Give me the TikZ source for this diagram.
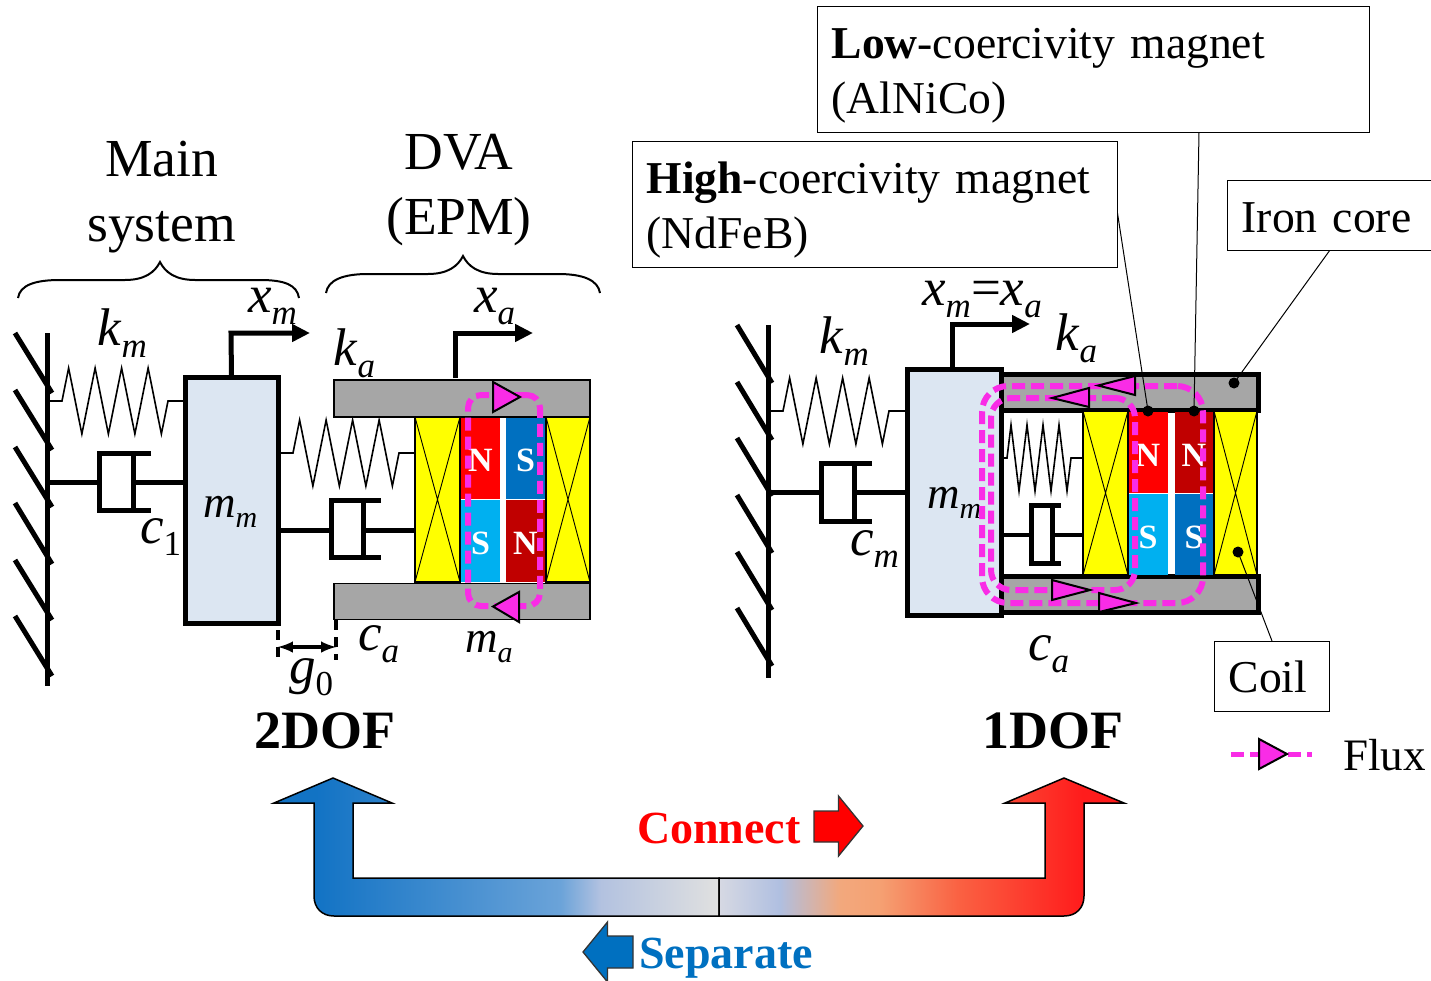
\documentclass[tikz,border=0pt]{standalone}
\usepackage{fontspec}
\setmainfont{Liberation Serif}
\usetikzlibrary{arrows,arrows.meta,decorations.pathmorphing}

\definecolor{massblue}{HTML}{DCE6F2}
\definecolor{irongray}{HTML}{A6A6A6}
\definecolor{fluxpink}{HTML}{F92CE6}
\definecolor{coilyellow}{HTML}{FFFF00}
\definecolor{darkred}{HTML}{C00000}
\definecolor{poleblue}{HTML}{0070C0}
\definecolor{polecyan}{HTML}{00B0F0}

\pgfdeclarehorizontalshading{sepshade}{100bp}{rgb(0bp)=(0.06,0.44,0.76); rgb(29.7bp)=(0.07,0.45,0.77); rgb(57.2bp)=(0.42,0.64,0.85); rgb(61.7bp)=(0.70,0.76,0.88); rgb(75bp)=(0.88,0.88,0.88); rgb(100bp)=(0.88,0.88,0.88)}
\pgfdeclarehorizontalshading{conshade}{100bp}{rgb(0bp)=(0.84,0.85,0.89); rgb(25bp)=(0.84,0.85,0.89); rgb(32.5bp)=(0.69,0.75,0.88); rgb(39.9bp)=(0.95,0.66,0.49); rgb(44.8bp)=(0.96,0.63,0.45); rgb(54.6bp)=(0.98,0.38,0.26); rgb(69.8bp)=(1,0.11,0.11); rgb(100bp)=(1,0.11,0.11)}

\newcommand{\symsub}[2]{{\fontsize{53}{53}\selectfont\textit{#1}\raisebox{-12pt}{\fontsize{35}{35}\selectfont\textit{#2}}}}
\newcommand{\masssub}[2]{{\fontsize{45}{45}\selectfont\textit{#1}\raisebox{-10pt}{\fontsize{30}{30}\selectfont\textit{#2}}}}

\tikzset{
  rod/.style={line width=5pt},
  hatch/.style={line width=5pt},
  outarrow/.style={line width=5pt, -{Triangle[length=18pt,width=17pt]}, line join=miter},
  massbox/.style={draw, fill=massblue, line width=5pt, inner sep=0pt, outer sep=0pt},
  ironbar/.style={draw, fill=irongray, line width=1.5pt, inner sep=0pt, outer sep=0pt},
  ironthick/.style={draw, fill=irongray, line width=5pt, inner sep=0pt, outer sep=0pt},
  coilbox/.style={draw, fill=coilyellow, line width=1.2pt, inner sep=0pt, outer sep=0pt},
  coilx/.style={line width=0.9pt},
  magnet/.style={fill=#1, text=white, inner sep=0pt, outer sep=0pt, text height=27pt, text depth=0pt, font=\fontsize{34}{34}\selectfont\bfseries},
  spring/.style={line width=1.6pt, decorate, decoration={zigzag, segment length=#1, amplitude=33pt, pre length=15pt, post length=15pt}},
  fluxloop/.style={draw=fluxpink, line width=6pt, dash pattern=on 13pt off 6pt, inner sep=0pt, outer sep=0pt},
  fluxtip/.style={draw=black, fill=fluxpink, line width=2pt, line join=miter},
  callout/.style={draw, fill=white, line width=1.3pt, inner xsep=14pt, inner ysep=6pt, anchor=north west, align=left, font=\fontsize{45.6}{55}\selectfont},
  dotmark/.style={circle, fill=black, inner sep=0pt, minimum size=11pt},
  leader/.style={line width=1pt},
  gaptick/.style={line width=3.5pt, dash pattern=on 10pt off 7pt},
  bigarrow/.style={draw=black, line width=1.5pt, shade, line join=miter},
  smallarrow/.style={draw=black!80, line width=1.3pt, line join=miter},
  headtext/.style={anchor=base, align=center, font=\fontsize{53.5}{65}\selectfont},
  doftext/.style={anchor=base, font=\fontsize{54}{54}\selectfont\bfseries},
  label/.style={anchor=base west, inner sep=0pt},
  actiontext/.style={anchor=base west, inner sep=0pt, font=\fontsize{46}{46}\selectfont\bfseries},
}

\begin{document}
\begin{tikzpicture}[x=1pt, y=-1pt]
  \useasboundingbox (0,0) rectangle (1431,980);

  % 2DOF side
  \coordinate (wallLtop) at (47,333);
  \coordinate (wallLbot) at (47,686);
  \draw[rod] (wallLtop) -- (wallLbot);
  \draw[hatch] (15,333) -- (52,393);
  \draw[hatch] (15,390) -- (52,450);
  \draw[hatch] (15,447) -- (52,507);
  \draw[hatch] (15,503) -- (52,564);
  \draw[hatch] (15,560) -- (52,620);
  \draw[hatch] (15,616) -- (52,676);

  \node[ironbar, minimum width=256pt, minimum height=37pt] (ironLtop) at (462,398.5) {};
  \node[ironbar, minimum width=256pt, minimum height=36pt] (ironLbot) at (462,601.5) {};
  \node[coilbox, minimum width=45pt, minimum height=165pt] (coilLa) at (437.5,499.5) {};
  \node[coilbox, minimum width=44pt, minimum height=165pt] (coilLb) at (568,499.5) {};
  \draw[coilx] (coilLa.north west) -- (coilLa.south east) (coilLa.north east) -- (coilLa.south west);
  \draw[coilx] (coilLb.north west) -- (coilLb.south east) (coilLb.north east) -- (coilLb.south west);
  \node[magnet=red, minimum width=39pt, minimum height=81pt] (magLa) at (480.5,458) {N};
  \node[magnet=polecyan, minimum width=39pt, minimum height=82pt] (magLb) at (480.5,541) {S};
  \node[magnet=poleblue, minimum width=39pt, minimum height=81pt] (magLc) at (525.5,458) {S};
  \node[magnet=darkred, minimum width=39pt, minimum height=82pt] (magLd) at (525.5,541) {N};

  \node[massbox, minimum width=93pt, minimum height=246pt] (massL) at (231.5,500.5) {};

  \coordinate (springLa) at (47,401);
  \draw[spring=26.5pt] (springLa) -- (springLa -| massL.west);
  \coordinate (springLb) at (278,453);
  \draw[spring=26.5pt] (springLb) -- (springLb -| coilLa.west);

  \coordinate (dampLa) at (99,482);
  \coordinate (pistLa) at (133,482);
  \draw[rod] (dampLa -| wallLtop) -- (dampLa);
  \draw[rod] (151,453) -- (99,453) -- (99,510) -- (151,510);
  \draw[rod] (133,453) -- (133,510);
  \draw[rod] (pistLa) -- (pistLa -| massL.west);

  \coordinate (dampLb) at (331,530);
  \coordinate (pistLb) at (363,530);
  \draw[rod] (dampLb -| massL.east) -- (dampLb);
  \draw[rod] (381,500) -- (331,500) -- (331,557) -- (381,557);
  \draw[rod] (363,500) -- (363,557);
  \draw[rod] (pistLb) -- (pistLb -| coilLa.west);

  \coordinate (xmBend) at (231,333);
  \coordinate (xmEnd) at (310,333);
  \draw[outarrow] (massL.north) -- (xmBend) -- (xmEnd);
  \coordinate (xaFoot) at (455,378);
  \coordinate (xaBend) at (455,333);
  \coordinate (xaEnd) at (533,333);
  \draw[outarrow] (xaFoot) -- (xaBend) -- (xaEnd);

  \node[fluxloop, rounded corners=13pt, minimum width=72pt, minimum height=211pt] (fluxL) at (504,500.5) {};
  \draw[fluxtip] (493,382) -- (520,397) -- (493,412) -- cycle;
  \draw[fluxtip] (519,592) -- (493,606.5) -- (519,622) -- cycle;

  \coordinate (gapA) at (278,647);
  \coordinate (gapB) at (336,647);
  \draw[gaptick] (278,630) -- (278,660);
  \draw[gaptick] (336,620) -- (336,660);
  \draw[line width=4pt, latex-latex] (gapA) -- (gapB);

  \draw[line width=2pt] (18,298) .. controls (20,285) and (35,280) .. (60,280) -- (125,280) .. controls (145,280) and (155,272) .. (160,262) .. controls (165,272) and (175,280) .. (195,280) -- (260,280) .. controls (285,280) and (297,285) .. (299,298);
  \draw[line width=2pt] (326,293) .. controls (328,280) and (343,274) .. (368,274) -- (428,274) .. controls (448,274) and (458,266) .. (463,256) .. controls (468,266) and (478,274) .. (498,274) -- (558,274) .. controls (583,274) and (598,280) .. (600,293);

  \node[headtext] (mainLabel) at (161.5,241) {Main\\system};
  \node[headtext] (dvaLabel) at (459,234) {DVA\\(EPM)};
  \node[label] (kmL) at (97,345) {\symsub{k}{m}};
  \node[label] (c1L) at (140,543) {\symsub{c}{\textup{1}}};
  \node[label] (xmL) at (248,312) {\symsub{x}{m}};
  \node[label] (mmL) at (203,517) {\masssub{m}{m}};
  \node[label] (g0L) at (289,683) {\symsub{g}{\textup{0}}};
  \node[label] (kaL) at (333,365) {\symsub{k}{a}};
  \node[label] (xaL) at (474,312) {\symsub{x}{a}};
  \node[label] (caL) at (358,650) {\symsub{c}{a}};
  \node[label] (maL) at (465,652) {\masssub{m}{a}};
  \node[doftext] (twoDof) at (325,748) {2DOF};

  % 1DOF side
  \coordinate (wallRtop) at (768,325);
  \coordinate (wallRbot) at (768,678);
  \draw[rod] (wallRtop) -- (wallRbot);
  \draw[hatch] (737,325) -- (772,383);
  \draw[hatch] (737,382) -- (772,440);
  \draw[hatch] (737,438) -- (772,496);
  \draw[hatch] (737,495) -- (772,553);
  \draw[hatch] (737,552) -- (772,610);
  \draw[hatch] (737,608) -- (772,666);

  \node[ironthick, minimum width=257pt, minimum height=36pt] (ironRtop) at (1130,392.5) {};
  \node[ironthick, minimum width=257pt, minimum height=36pt] (ironRbot) at (1130,594.5) {};
  \draw[line width=5pt] (ironRtop.south west) -- (ironRbot.north west);
  \node[coilbox, minimum width=45pt, minimum height=164pt] (coilRa) at (1105.5,493) {};
  \node[coilbox, minimum width=43pt, minimum height=164pt] (coilRb) at (1235.5,493) {};
  \draw[coilx] (coilRa.north west) -- (coilRa.south east) (coilRa.north east) -- (coilRa.south west);
  \draw[coilx] (coilRb.north west) -- (coilRb.south east) (coilRb.north east) -- (coilRb.south west);
  \node[magnet=red, minimum width=39pt, minimum height=81pt] (magRa) at (1148,452.5) {N};
  \node[magnet=polecyan, minimum width=39pt, minimum height=81pt] (magRb) at (1148,534.5) {S};
  \node[magnet=darkred, minimum width=38pt, minimum height=81pt] (magRc) at (1194,452.5) {N};
  \node[magnet=poleblue, minimum width=38pt, minimum height=81pt] (magRd) at (1194,534.5) {S};

  \node[massbox, minimum width=94pt, minimum height=246pt] (massR) at (954,492) {};

  \coordinate (springRa) at (768,411);
  \draw[spring=26.5pt] (springRa) -- (springRa -| massR.west);
  \coordinate (springRb) at (1003,458);
  \draw[line width=1.6pt, decorate, decoration={zigzag, segment length=16pt, amplitude=33pt, pre length=4pt, post length=12pt}] (springRb) -- (springRb -| coilRa.west);

  \coordinate (dampRa) at (821,492);
  \coordinate (pistRa) at (854,492);
  \draw[rod] (dampRa -| wallRtop) -- (dampRa);
  \draw[rod] (872,463) -- (821,463) -- (821,521) -- (872,521);
  \draw[rod] (854,463) -- (854,521);
  \draw[rod] (pistRa) -- (pistRa -| massR.west);

  \coordinate (dampRb) at (1031,535);
  \coordinate (pistRb) at (1052,535);
  \draw[line width=3.5pt] (dampRb -| massR.east) -- (dampRb);
  \draw[rod] (1061,505) -- (1031,505) -- (1031,563) -- (1061,563);
  \draw[rod] (1052,505) -- (1052,563);
  \draw[line width=3.5pt] (pistRb) -- (pistRb -| coilRa.west);

  \coordinate (xsBend) at (952,324);
  \coordinate (xsEnd) at (1030,324);
  \draw[outarrow] (massR.north -| xsBend) -- (xsBend) -- (xsEnd);

  \node[label] (mmR) at (927,508) {\masssub{m}{m}};

  \node[dotmark] (dotHigh) at (1148,411) {};
  \node[dotmark] (dotLow) at (1194,411) {};
  \node[dotmark] (dotIron) at (1234,383) {};
  \node[dotmark] (dotCoil) at (1238,552) {};

  \node[fluxloop, rounded corners=26pt, minimum width=221pt, minimum height=217pt] (fluxRa) at (1092.5,494.5) {};
  \node[fluxloop, rounded corners=20pt, minimum width=144pt, minimum height=192pt] (fluxRb) at (1063,494) {};
  \draw[fluxtip] (1098,385.5) -- (1135,376) -- (1135,395) -- cycle;
  \draw[fluxtip] (1052,398) -- (1089,388) -- (1089,407) -- cycle;
  \draw[fluxtip] (1052,580) -- (1090,590) -- (1052,600) -- cycle;
  \draw[fluxtip] (1099,593) -- (1136,603) -- (1099,612) -- cycle;

  \coordinate (lnHigh) at (1117,210);
  \coordinate (lnLow) at (1199,132);
  \coordinate (lnIron) at (1330,250);
  \coordinate (lnCoil) at (1272,641);
  \draw[leader] (lnHigh) -- (dotHigh.center);
  \draw[leader] (lnLow) -- (dotLow.center);
  \draw[leader] (lnIron) -- (dotIron.center);
  \draw[leader] (lnCoil) -- (dotCoil.center);

  \node[callout, text width=524pt, minimum height=126pt] (lowBox) at (817,6) {\rule{0pt}{42pt}\textbf{Low}-coercivity magnet\\(AlNiCo)};
  \node[callout, text width=457pt, minimum height=126pt] (highBox) at (632,141) {\rule{0pt}{42pt}\textbf{High}-coercivity magnet\\(NdFeB)};
  \node[callout, text width=176pt, minimum height=70pt] (ironBox) at (1227,180) {\rule{0pt}{34pt}Iron core};
  \node[callout, text width=87pt, minimum height=70pt] (coilBox) at (1214,641) {Coil};

  \node[label] (kmR) at (819,353) {\symsub{k}{m}};
  \node[label] (cmR) at (850,555) {\symsub{c}{m}};
  \node[label] (xsR) at (922,305) {\symsub{x}{m}{\fontsize{53}{53}\selectfont =}\symsub{x}{a}};
  \node[label] (kaR) at (1055,350) {\symsub{k}{a}};
  \node[label] (caR) at (1028,660) {\symsub{c}{a}};
  \node[doftext] (oneDof) at (1053,748) {1DOF};

  % flux legend
  \coordinate (fluxA) at (1231,754);
  \coordinate (fluxB) at (1312,754);
  \draw[draw=fluxpink, line width=5pt, dash pattern=on 13pt off 6pt] (fluxA) -- (fluxB);
  \draw[fluxtip] (1259,739) -- (1287,754) -- (1259,769) -- cycle;
  \node[label, font=\fontsize{45}{45}\selectfont] (fluxLabel) at (1343,770) {Flux};

  % connect and separate arrows
  \draw[bigarrow, shading=sepshade] (719,878) -- (353,878) -- (353,803) -- (392,803) -- (333,778) -- (274,803) -- (314,803) -- (314,896) .. controls (314,908) and (322,916) .. (334,916) -- (719,916) -- cycle;
  \draw[bigarrow, shading=conshade] (719,878) -- (1045,878) -- (1045,803) -- (1005,803) -- (1064,778) -- (1124,803) -- (1084,803) -- (1084,896) .. controls (1084,908) and (1076,916) .. (1064,916) -- (719,916) -- cycle;
  \draw[smallarrow, fill=red] (814,811) -- (838.5,811) -- (838.5,796) -- (863,826) -- (838.5,856) -- (838.5,842) -- (814,842) -- cycle;
  \draw[smallarrow, fill=poleblue] (633,936) -- (607.5,936) -- (607.5,922) -- (583,952) -- (607.5,982) -- (607.5,968) -- (633,968) -- cycle;
  \node[actiontext, text=red] (connectLabel) at (637,843) {Connect};
  \node[actiontext, text=poleblue] (separateLabel) at (639,968) {Separate};
\end{tikzpicture}
\end{document}
